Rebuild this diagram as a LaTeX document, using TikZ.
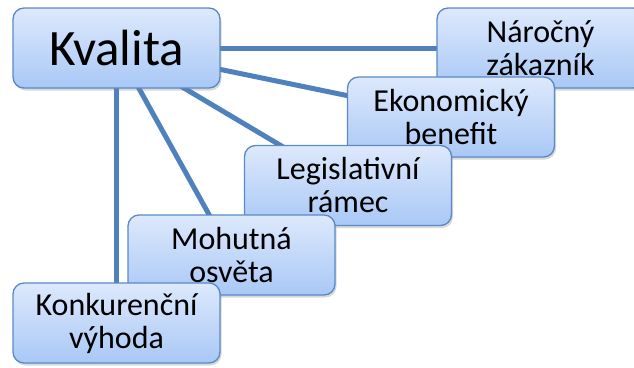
\documentclass[tikz,border=0pt]{standalone}
\usepackage{fontspec}
\setmainfont{Carlito}
\usetikzlibrary{shadows}
\definecolor{linkblue}{HTML}{4F81BD}
\definecolor{boxedge}{HTML}{5A8AC6}
\definecolor{boxtop}{HTML}{DDE9FC}
\definecolor{boxbottom}{HTML}{A9C8F6}
\begin{document}
\begin{tikzpicture}[x=1pt,y=1pt,
  topic/.style={draw=boxedge, line width=1.3pt, rounded corners=11pt,
    top color=boxtop, bottom color=boxbottom,
    minimum width=207pt, minimum height=80pt, inner sep=0pt,
    align=center, font=\fontsize{32}{33}\selectfont,
    drop shadow={opacity=0.3, shadow xshift=1.5pt, shadow yshift=-2.5pt}},
  link/.style={draw=linkblue, line width=5pt}]
  \useasboundingbox (0,0) rectangle (634,-367);
  \begin{scope}
    \clip (0,0) rectangle (634,-367);
    % node centres
    \coordinate (cK) at (116.5,-48);
    \coordinate (cN) at (540.5,-48);
    \coordinate (cE) at (451,-117);
    \coordinate (cL) at (348,-185.5);
    \coordinate (cM) at (231.5,-255);
    \coordinate (cV) at (116.5,-323);
    % connectors from the central topic
    \draw[link] (cK) -- (cN);
    \draw[link] (cK) -- (cE);
    \draw[link] (cK) -- (cL);
    \draw[link] (cK) -- (cM);
    \draw[link] (cK) -- (cV);
    % topic boxes, later ones overlap earlier ones
    \node[topic, font=\fontsize{51}{54}\selectfont] (kvalita) at (cK) {Kvalita};
    \node[topic] (narocny) at (cN) {Náročný\\zákazník};
    \node[topic] (ekon) at (cE) {Ekonomický\\benefit};
    \node[topic] (legis) at (cL) {Legislativní\\rámec};
    \node[topic] (osveta) at (cM) {Mohutná\\osvěta};
    \node[topic] (konk) at (cV) {Konkurenční\\výhoda};
  \end{scope}
\end{tikzpicture}
\end{document}
